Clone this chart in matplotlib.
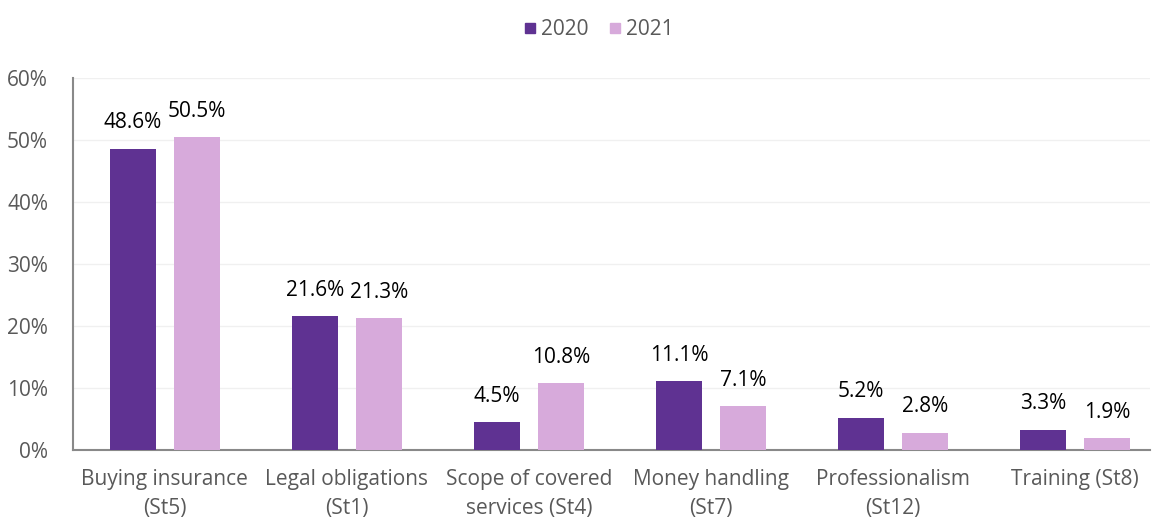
import matplotlib
matplotlib.use("Agg")
import matplotlib.pyplot as plt
import numpy as np
from matplotlib.lines import Line2D

categories = ["Buying insurance\n(St5)", "Legal obligations\n(St1)", "Scope of covered\nservices (St4)",
              "Money handling\n(St7)", "Professionalism\n(St12)", "Training (St8)"]
series_names = ["2020", "2021"]
values_2020 = [48.6, 21.6, 4.5, 11.1, 5.2, 3.3]
values_2021 = [50.5, 21.3, 10.8, 7.1, 2.8, 1.9]
colors = ["#5F3292", "#D7AADB"]
yticks = [0, 10, 20, 30, 40, 50, 60]

plt.rcParams['font.family'] = ['Open Sans', 'DejaVu Sans']

fig = plt.figure(figsize=(11.59, 5.18), dpi=100)
ax = fig.add_axes([73 / 1159, 68 / 518, 1077 / 1159, 372 / 518])

x = np.arange(len(categories))
w = 0.253
off = 0.176
for vals, c, o in [(values_2020, colors[0], -off), (values_2021, colors[1], off)]:
    bars = ax.bar(x + o, vals, width=w, color=c, zorder=3)
    for b, v in zip(bars, vals):
        ax.annotate(f"{v:.1f}%", (b.get_x() + b.get_width() / 2, v), xytext=(0, 11),
                    textcoords="offset points", ha="center", va="bottom",
                    fontsize=15, color="#000000")

ax.set_xlim(-0.505, -0.505 + 1077 / 182)
ax.set_ylim(0, 60)
ax.set_yticks(yticks)
ax.set_yticklabels([f"{t}%" for t in yticks])
ax.set_xticks(x)
ax.set_xticklabels(categories, fontsize=15, color="#595959", linespacing=1.45)
ax.tick_params(axis='y', length=0, labelsize=15, labelcolor="#595959", pad=18)
ax.tick_params(axis='x', length=0, pad=14)
ax.grid(axis='y', color="#F0F0F0", linewidth=1, zorder=0)
for s in ["top", "right"]:
    ax.spines[s].set_visible(False)
for s in ["left", "bottom"]:
    ax.spines[s].set_color("#898989")
    ax.spines[s].set_linewidth(1.5)

handles = [Line2D([], [], marker='s', linestyle='none', markersize=7, color=c) for c in colors]
fig.legend(handles, series_names, loc="center", bbox_to_anchor=(0.517, 0.943), ncol=2, frameon=False,
           fontsize=15, labelcolor="#595959", handlelength=0.5, handletextpad=0.3, columnspacing=1.0)

fig.savefig("out.png", dpi=100)
